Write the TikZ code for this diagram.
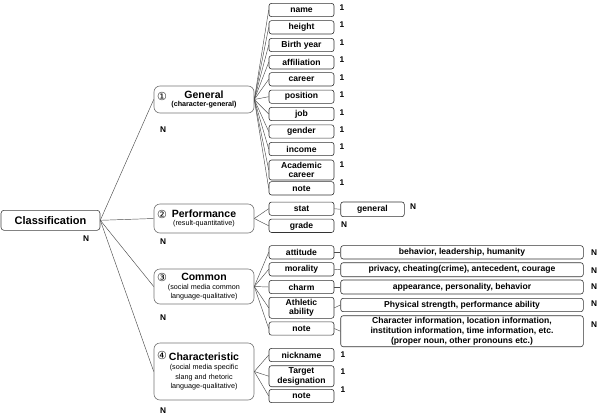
\documentclass[tikz,border=0pt]{standalone}
\usepackage{fontspec}
\setmainfont{Liberation Sans}
\newfontfamily\circfont{DejaVu Sans}
\usetikzlibrary{positioning}
\tikzset{
  cls root/.style={
    draw=black!75,
    rounded corners=3pt,
    line width=0.6pt,
    minimum width=99pt,
    minimum height=20pt,
    inner sep=1pt,
    font=\fontsize{11}{13}\selectfont\bfseries
  },
  cls group/.style={
    draw=black!55,
    rounded corners=6pt,
    line width=0.6pt,
    minimum width=100pt,
    inner sep=1pt,
    align=center,
    font=\fontsize{7.2}{9.6}\selectfont
  },
  cls leaf/.style={
    draw=black!80,
    rounded corners=2.5pt,
    line width=0.6pt,
    minimum width=65pt,
    minimum height=13.3pt,
    inner sep=0.5pt,
    align=center,
    font=\fontsize{8.6}{9.6}\selectfont\bfseries
  },
  cls detail/.style={cls leaf,minimum width=242.6pt},
  cls num/.style={inner sep=0pt,font=\circfont\fontsize{11}{12}\selectfont},
  cls count/.style={inner sep=0pt,font=\fontsize{8.3}{9}\selectfont\bfseries},
  cls link/.style={draw=black!70,line width=0.45pt}
}
\newcommand{\clstitle}[1]{{\fontsize{10.5}{12}\selectfont\bfseries #1}}

\begin{document}
\begin{tikzpicture}[x=1pt,y=-1pt]
  \useasboundingbox (0,0) rectangle (600,418);

  % root and groups
  \node[cls root] (root) at (50.5,220.3) {Classification};
  \node[cls count] (root-n) at (86,239) {N};

  \node[cls group,minimum height=27pt] (general) at (204,99.5) {\clstitle{General}\\[-1.5pt]{\bfseries (character-general)}};
  \node[cls num] (general-num) at (162,96) {①};
  \node[cls count] (general-n) at (163,130) {N};

  \node[cls group,minimum height=29pt] (perf) at (204,218.5) {\clstitle{Performance}\\[-1.5pt](result-quantitative)};
  \node[cls num] (perf-num) at (162,214) {②};
  \node[cls count] (perf-n) at (163,241.5) {N};

  \node[cls group,minimum height=35pt] (common) at (204,286.5) {\clstitle{Common}\\[-0.5pt](social media common\\language-qualitative)};
  \node[cls num] (common-num) at (162,277) {③};
  \node[cls count] (common-n) at (163,317.5) {N};

  \node[cls group,minimum height=57pt] (charac) at (204,371.5) {\clstitle{Characteristic}\\[-0.5pt](social media specific\\slang and rhetoric\\language-qualitative)};
  \node[cls num] (charac-num) at (162,355) {④};
  \node[cls count] (charac-n) at (163,410.5) {N};

  % general leaves
  \node[cls leaf] (name) at (301.5,10) {name};
  \node[cls leaf] (height) at (301.5,27.3) {height};
  \node[cls leaf] (birth) at (301.5,45) {Birth year};
  \node[cls leaf] (affil) at (301.5,62.3) {affiliation};
  \node[cls leaf] (career) at (301.5,79.3) {career};
  \node[cls leaf] (position) at (301.5,96.7) {position};
  \node[cls leaf] (job) at (301.5,114) {job};
  \node[cls leaf] (gender) at (301.5,131.5) {gender};
  \node[cls leaf] (income) at (301.5,149) {income};
  \node[cls leaf,minimum height=20pt] (academic) at (301.5,170) {Academic\\career};
  \node[cls leaf] (gnote) at (301.5,188.3) {note};

  \node[cls count] (name-1) at (342,7.3) {1};
  \node[cls count] (height-1) at (342,24.7) {1};
  \node[cls count] (birth-1) at (342,42.3) {1};
  \node[cls count] (affil-1) at (342,60) {1};
  \node[cls count] (career-1) at (342,77.3) {1};
  \node[cls count] (position-1) at (342,94.7) {1};
  \node[cls count] (job-1) at (342,112.3) {1};
  \node[cls count] (gender-1) at (342,130) {1};
  \node[cls count] (income-1) at (342,147) {1};
  \node[cls count] (academic-1) at (342,165) {1};
  \node[cls count] (gnote-1) at (342,182.7) {1};

  % performance leaves
  \node[cls leaf] (stat) at (301.5,208.7) {stat};
  \node[cls leaf] (grade) at (301.5,225.8) {grade};
  \node[cls leaf,minimum width=63.6pt,minimum height=14.7pt] (statgen) at (372.5,209.3) {general};
  \node[cls count] (statgen-n) at (413,207) {N};
  \node[cls count] (grade-n) at (344,225) {N};

  % common leaves
  \node[cls leaf] (attitude) at (301.5,252.3) {attitude};
  \node[cls leaf] (morality) at (301.5,269.3) {morality};
  \node[cls leaf] (charm) at (301.5,287) {charm};
  \node[cls leaf,minimum height=21pt] (athletic) at (301.5,307.8) {Athletic\\ability};
  \node[cls leaf] (cnote) at (301.5,328.5) {note};

  \node[cls detail] (attitude-d) at (462,252.3) {behavior, leadership, humanity};
  \node[cls detail,minimum height=14pt] (morality-d) at (462,269.7) {privacy, cheating(crime), antecedent, courage};
  \node[cls detail,minimum height=14pt] (charm-d) at (462,287) {appearance, personality, behavior};
  \node[cls detail] (athletic-d) at (462,305) {Physical strength, performance ability};
  \node[cls detail,minimum height=31pt] (cnote-d) at (462,331.2) {Character information, location information,\\institution information, time information, etc.\\(proper noun, other pronouns etc.)};

  \node[cls count] (attitude-n) at (594,253) {N};
  \node[cls count] (morality-n) at (594,271) {N};
  \node[cls count] (charm-n) at (594,287) {N};
  \node[cls count] (athletic-n) at (594,304) {N};
  \node[cls count] (cnote-n) at (594,325) {N};

  % characteristic leaves
  \node[cls leaf] (nickname) at (301.5,355) {nickname};
  \node[cls leaf,minimum height=21pt] (target) at (301.5,376.2) {Target\\designation};
  \node[cls leaf] (knote) at (301.5,396) {note};

  \node[cls count] (nickname-1) at (343,355) {1};
  \node[cls count] (target-1) at (343,371.7) {1};
  \node[cls count] (knote-1) at (343,390) {1};

  % links
  \draw[cls link] (root.east) -- (general.west);
  \draw[cls link] (root.east) -- (perf.west);
  \draw[cls link] (root.east) -- (common.west);
  \draw[cls link] (root.east) -- (charac.west);

  \draw[cls link] (general.east) -- (name.west);
  \draw[cls link] (general.east) -- (height.west);
  \draw[cls link] (general.east) -- (birth.west);
  \draw[cls link] (general.east) -- (affil.west);
  \draw[cls link] (general.east) -- (career.west);
  \draw[cls link] (general.east) -- (position.west);
  \draw[cls link] (general.east) -- (job.west);
  \draw[cls link] (general.east) -- (gender.west);
  \draw[cls link] (general.east) -- (income.west);
  \draw[cls link] (general.east) -- (academic.west);
  \draw[cls link] (general.east) -- (gnote.west);

  \draw[cls link] (perf.east) -- (stat.west);
  \draw[cls link] (perf.east) -- (grade.west);
  \draw[cls link] (stat.east) -- (statgen.west);

  \draw[cls link] (common.east) -- (attitude.west);
  \draw[cls link] (common.east) -- (morality.west);
  \draw[cls link] (common.east) -- (charm.west);
  \draw[cls link] (common.east) -- (athletic.west);
  \draw[cls link] (common.east) -- (cnote.west);
  \draw[cls link] (attitude.east) -- (attitude-d.west);
  \draw[cls link] (morality.east) -- (morality-d.west);
  \draw[cls link] (charm.east) -- (charm-d.west);
  \draw[cls link] (athletic.east) -- (athletic-d.west);
  \draw[cls link] (cnote.east) -- (cnote-d.west);

  \draw[cls link] (charac.east) -- (nickname.west);
  \draw[cls link] (charac.east) -- (target.west);
  \draw[cls link] (charac.east) -- (knote.west);
\end{tikzpicture}
\end{document}
